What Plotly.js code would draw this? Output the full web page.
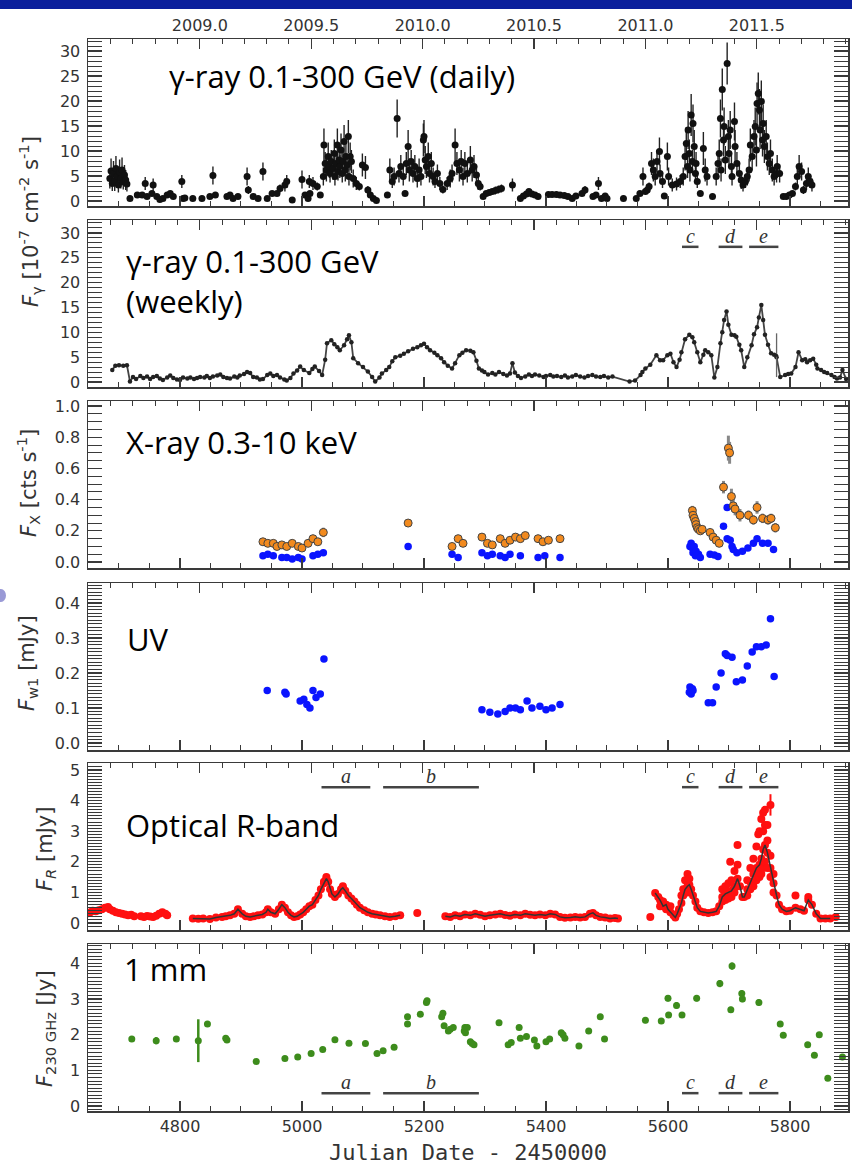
<!DOCTYPE html>
<html><head><meta charset="utf-8">
<script src="https://cdn.plot.ly/plotly-3.0.1.min.js"></script>
<style>html,body{margin:0;padding:0;background:#fff}#chart{width:852px;height:1168px}</style>
</head><body><div id="chart"></div>
<script>
// ---------------- DATA (JD - 2450000) ----------------
// gamma-ray daily [JD, flux (1e-7), error]
const gammaDaily = [
[4685,4.5,2],[4687,6.0,2.5],[4689,3.5,1.5],[4691,5.5,2.5],[4693,4.0,2],[4695,6.5,2.5],[4697,5.0,2],[4699,3.2,1.5],[4701,5.8,2.5],[4703,4.5,2],[4705,6.2,2.5],[4707,3.8,1.5],[4709,5.2,2],[4711,4.2,2],[4713,3.4,1.5],
[4718,0.5,0.4],[4730,1.2,0.5],[4738,1.2,0.5],[4743,3.5,1.3],[4746,0.9,0.4],[4754,1.5,0.5],[4756,3.2,1.3],[4762,0.9,0.4],[4767,0.3,0.4],[4772,0.5,0.4],[4779,1.2,0.5],[4784,1.5,0.5],[4789,0.9,0.4],[4803,3.9,1.3],[4805,0.5,0.4],[4808,0.6,0.4],[4821,0.5,0.4],[4836,0.5,0.4],[4849,0.9,0.4],[4854,5.1,1.8],[4858,1.2,0.5],[4877,0.9,0.4],[4882,1.2,0.5],[4887,0.5,0.4],[4895,0.9,0.4],[4910,4.9,1.8],[4912,2.2,0.8],[4920,0.9,0.4],[4928,0.5,0.4],[4936,5.9,1.8],[4943,0.5,0.4],[4951,1.5,0.5],[4959,1.5,0.5],[4964,2.5,0.8],[4972,3.2,1.3],[4975,3.9,1.3],[4984,0.2,0.4],
[5000,4.3,1.8],[5005,1.2,0.5],[5010,0.5,0.4],[5012,3.9,1.3],[5013,1.5,0.5],[5018,3.5,1.3],[5025,2.9,0.8],[5030,1.2,0.5],
[5035,4.9,1.8],[5036,11.2,3.3],[5038,7.5,2.3],[5040,6.2,2.3],[5043,8.9,2.8],[5045,6.9,2.3],[5046,5.5,1.8],[5048,7.9,2.3],[5051,6.5,2.3],[5053,9.5,2.8],[5054,4.9,1.8],[5056,7.5,2.3],[5058,11.2,3.3],[5059,5.9,1.8],[5061,8.2,2.8],[5062,6.9,2.3],[5064,10.2,3.3],[5066,5.5,1.8],[5067,7.9,2.3],[5069,11.9,3.3],[5071,6.2,2.3],[5072,8.9,2.8],[5074,7.2,2.3],[5076,12.9,3.3],[5077,4.9,1.8],[5079,8.9,2.8],[5081,7.9,2.3],
[5084,4.5,1.8],[5089,3.5,1.3],[5094,2.9,0.8],[5099,7.2,2.3],[5104,6.7,2.3],[5108,2.2,0.8],[5112,1.2,0.5],[5117,0.5,0.4],[5122,0.1,0.4],
[5140,1.2,0.5],[5144,6.2,2.3],[5148,3.9,1.3],[5151,4.9,1.8],[5156,16.5,3.8],[5159,5.5,1.8],[5162,6.9,2.3],[5166,4.9,1.8],[5169,1.5,0.5],[5171,7.5,2.3],
[5174,10.9,3.3],[5176,6.2,2.3],[5179,7.9,2.3],[5182,5.5,1.8],[5185,6.9,2.3],[5189,4.5,1.8],[5192,6.2,2.3],[5195,4.9,1.8],[5199,12.2,3.3],[5200,12.9,3.3],
[5202,8.2,2.8],[5204,6.9,2.3],[5207,8.9,2.8],[5209,5.5,1.8],[5212,7.5,2.3],[5215,4.9,1.8],[5218,3.9,1.3],[5222,5.5,1.8],[5226,3.5,1.3],[5231,2.3,0.8],
[5238,3.5,1.3],[5243,4.5,1.8],[5246,5.5,1.8],[5251,11.2,3.3],[5254,7.5,2.3],[5258,6.2,2.3],[5261,7.9,2.3],[5264,4.9,1.8],[5267,7.5,2.3],[5271,5.5,1.8],
[5276,8.2,2.8],[5279,6.2,2.3],[5282,6.9,2.3],[5286,5.2,1.8],[5289,3.5,1.3],[5292,2.9,0.8],[5297,0.9,0.4],[5302,1.5,0.5],[5307,1.7,0.5],[5312,1.9,0.5],
[5317,2.1,0.8],[5322,2.3,0.8],[5327,2.5,0.8],[5345,3.2,1.3],[5358,0.5,0.4],[5363,1.0,0.5],[5368,1.4,0.5],[5372,1.9,0.5],[5377,1.4,0.5],[5382,1.2,0.5],
[5387,0.9,0.4],[5404,1.3,0.5],[5410,1.3,0.5],[5417,1.3,0.5],[5423,1.2,0.5],[5430,1.1,0.5],[5436,0.9,0.4],[5443,0.5,0.4],[5449,1.0,0.5],
[5459,1.5,0.5],[5464,2.2,0.8],[5477,0.9,0.4],[5482,1.2,0.5],[5486,3.5,1.3],[5491,0.5,0.4],[5497,1.0,0.5],[5500,0.5,0.4],[5527,0.5,0.4],[5548,0.5,0.4],
[5554,1.5,0.5],[5559,4.9,1.8],[5563,1.9,0.5],[5566,2.2,0.8],[5569,2.9,0.8],[5573,7.5,2.3],[5576,6.2,2.3],[5579,4.9,1.8],[5582,7.9,2.3],[5586,9.9,2.8],
[5587,5.5,1.8],[5591,3.9,1.3],[5594,1.0,0.5],[5599,8.9,2.8],[5601,4.9,1.8],[5607,3.2,1.3],[5614,3.4,1.3],[5620,3.9,1.3],[5625,4.9,1.8],[5628,8.9,2.8],
[5630,11.5,3.3],[5632,6.9,2.3],[5633,14.2,3.8],[5635,9.5,2.8],[5636,6.2,2.3],[5638,17.2,4.2],[5640,7.9,2.3],[5641,15.5,3.8],[5643,10.9,3.3],[5645,5.5,1.8],
[5646,7.5,2.3],[5648,3.9,1.3],[5653,1.5,0.5],[5658,10.5,3.3],[5661,6.2,2.3],[5664,4.9,1.8],[5673,0.9,0.4],[5679,4.9,1.8],[5682,7.5,2.3],[5684,9.5,2.8],
[5686,16.5,3.8],[5687,6.2,2.3],[5689,22.3,4.2],[5691,12.2,3.3],[5692,14.9,3.8],[5694,8.2,2.8],[5697,27.5,4.2],[5699,12.9,3.3],[5700,9.5,2.8],[5702,14.2,3.8],
[5704,6.9,2.3],[5705,4.9,1.8],[5709,15.9,3.8],[5710,10.9,3.3],[5713,7.5,2.3],[5717,5.5,1.8],[5720,4.2,1.8],[5723,3.2,1.3],[5727,3.9,1.3],[5730,4.9,1.8],
[5733,6.2,2.3],[5735,11.2,3.3],[5738,8.9,2.8],[5741,12.9,3.3],[5743,14.9,3.8],[5745,10.2,3.3],[5746,19.5,4.2],[5748,21.5,4.2],[5750,18.2,4.2],[5751,14.2,3.8],
[5753,19.9,4.2],[5755,12.2,3.3],[5756,15.5,3.8],[5758,10.9,3.3],[5761,12.9,3.3],[5763,8.9,2.8],[5766,7.5,2.3],[5768,9.5,2.8],[5771,6.2,2.3],[5774,4.9,1.8],
[5778,5.5,1.8],[5779,6.9,2.3],[5783,5.5,1.8],[5789,0.9,0.4],[5794,0.9,0.4],[5799,1.2,0.5],[5804,1.5,0.5],[5809,2.9,0.8],[5812,4.9,1.8],[5815,6.9,2.3],
[5819,5.9,1.8],[5822,2.2,0.8],[5827,3.5,1.3],[5830,4.9,1.8],[5833,3.9,1.3],[5836,3.2,1.3]
];

// gamma-ray weekly [JD, flux]
const gammaWeekly = [
[4689,2.4],[4694,3.3],[4700,3.4],[4707,3.3],[4713,3.4],[4718,0.1],[4723,1.0],[4728,0.6],[4735,1.2],[4740,0.8],[4746,1.1],[4751,0.6],[4756,1.0],[4762,1.2],[4767,0.7],[4772,0.4],[4779,0.9],[4784,1.3],[4789,0.8],[4795,0.5],
[4800,0.4],[4805,0.9],[4812,0.7],[4817,0.9],[4823,0.6],[4828,0.8],[4833,1.0],[4840,0.9],[4844,1.2],[4849,0.8],[4854,1.1],[4861,1.3],[4866,1.5],[4871,1.0],[4877,0.8],[4882,0.7],[4889,1.1],[4894,0.9],[4898,1.3],[4905,1.6],
[4910,2.0],[4915,1.8],[4920,1.0],[4926,0.9],[4931,0.5],[4936,0.6],[4943,1.4],[4948,1.7],[4953,1.2],[4959,1.4],[4964,0.9],[4971,0.5],[4975,0.3],[4981,0.8],[4986,1.7],[4992,2.3],[4997,3.1],[5003,2.4],[5012,1.8],[5017,2.6],
[5021,3.1],[5028,2.2],[5033,1.4],[5038,4.5],[5041,7.8],[5048,8.4],[5053,7.6],[5058,7.0],[5062,6.4],[5069,7.4],[5074,8.6],[5077,9.4],[5081,8.0],[5084,4.8],[5092,3.8],[5100,3.0],[5108,2.1],[5115,1.0],[5120,0.1],[5127,0.9],
[5131,1.7],[5138,2.4],[5143,3.0],[5148,4.2],[5153,5.0],[5161,5.3],[5167,5.7],[5174,6.2],[5182,6.7],[5189,7.0],[5195,7.4],[5200,7.7],[5205,7.0],[5210,6.4],[5217,5.9],[5222,5.4],[5228,4.8],[5233,4.0],[5239,3.3],[5246,2.7],
[5251,3.8],[5258,5.4],[5263,5.9],[5269,6.4],[5276,6.3],[5281,6.0],[5286,4.3],[5290,2.7],[5295,2.3],[5299,2.0],[5305,1.5],[5312,1.8],[5317,1.5],[5323,2.0],[5330,1.6],[5336,1.3],[5341,1.7],[5345,3.8],[5349,1.9],[5354,1.2],
[5359,0.8],[5366,1.1],[5372,1.5],[5377,1.2],[5382,1.5],[5389,1.3],[5396,1.0],[5400,1.2],[5407,1.4],[5412,1.1],[5418,1.2],[5425,1.0],[5431,1.3],[5436,0.9],[5443,1.1],[5449,1.4],[5456,1.1],[5463,0.9],[5469,1.2],[5476,1.4],
[5482,1.1],[5489,1.0],[5495,1.2],[5502,0.9],[5509,1.1],[5537,0.1],[5546,0.3],[5555,1.4],[5558,2.0],[5563,2.7],[5571,3.5],[5581,5.4],[5587,4.4],[5592,4.4],[5599,5.4],[5604,5.7],[5609,4.0],[5614,3.0],[5619,4.5],[5622,6.0],
[5628,8.6],[5635,9.5],[5640,9.0],[5643,8.0],[5648,6.0],[5653,4.0],[5658,5.5],[5661,6.4],[5666,6.0],[5671,5.4],[5676,0.9],[5681,3.0],[5686,7.8],[5689,10.0],[5692,12.5],[5696,14.2],[5699,11.5],[5704,9.5],[5709,9.4],[5712,9.1],
[5717,7.5],[5720,6.4],[5725,3.0],[5730,5.0],[5737,7.4],[5741,9.6],[5746,11.0],[5749,13.0],[5753,15.5],[5756,12.5],[5759,9.5],[5764,7.5],[5769,5.8],[5774,5.5],[5778,5.0],[5784,1.0],[5792,1.4],[5797,1.6],[5802,1.7],[5809,3.0],
[5814,6.0],[5820,4.4],[5825,4.6],[5828,4.0],[5833,4.4],[5838,4.7],[5843,3.5],[5845,2.7],[5851,2.4],[5856,2.0],[5861,1.8],[5868,1.4],[5873,1.0],[5877,0.7],[5882,0.9],[5886,2.4],[5892,0.6]
];
// weekly point with large error [JD, flux, error]
const gammaWeeklyBigErr = [[5778,5.4,4.4]];

// X-ray 0.3-10 keV: orange series [JD, rate, error], blue series [JD, rate]
const xrayOrange = [
[4936,0.13,0.015],[4944,0.12,0.015],[4953,0.12,0.015],[4959,0.10,0.015],[4967,0.11,0.015],[4975,0.10,0.015],[4984,0.12,0.015],[4994,0.10,0.015],[5000,0.09,0.015],[5010,0.12,0.015],
[5018,0.15,0.02],[5026,0.13,0.02],[5035,0.19,0.03],[5174,0.25,0.02],[5246,0.10,0.015],[5256,0.15,0.02],[5264,0.12,0.02],[5295,0.16,0.02],[5304,0.12,0.015],[5312,0.11,0.015],
[5325,0.15,0.02],[5333,0.12,0.015],[5341,0.14,0.02],[5350,0.16,0.02],[5358,0.15,0.02],[5366,0.17,0.02],[5387,0.15,0.02],[5395,0.13,0.015],[5404,0.14,0.02],[5423,0.15,0.02],
[5640,0.33,0.03],[5641,0.30,0.03],[5643,0.28,0.02],[5645,0.26,0.02],[5646,0.24,0.02],[5648,0.22,0.02],[5650,0.21,0.02],[5653,0.20,0.02],[5656,0.21,0.02],[5669,0.19,0.02],
[5674,0.16,0.02],[5679,0.14,0.02],[5684,0.12,0.02],[5691,0.48,0.04],[5699,0.73,0.08],[5701,0.70,0.07],[5704,0.42,0.05],[5707,0.36,0.04],[5710,0.34,0.04],[5718,0.30,0.04],
[5732,0.30,0.03],[5740,0.27,0.03],[5746,0.35,0.04],[5755,0.28,0.03],[5764,0.27,0.03],[5769,0.28,0.03],[5776,0.22,0.03]
];
const xrayBlue = [
[4936,0.04],[4944,0.05],[4953,0.04],[4967,0.03],[4975,0.03],[4984,0.02],[4994,0.03],[5000,0.02],[5018,0.04],[5026,0.05],[5035,0.06],[5174,0.10],
[5246,0.05],[5256,0.03],[5295,0.06],[5304,0.04],[5312,0.05],[5325,0.04],[5333,0.03],[5341,0.05],[5358,0.04],[5387,0.03],[5398,0.04],[5423,0.03],
[5636,0.10],[5638,0.12],[5640,0.09],[5641,0.06],[5643,0.10],[5645,0.04],[5646,0.07],[5650,0.05],[5653,0.03],[5669,0.05],[5676,0.045],[5682,0.035],
[5691,0.23],[5697,0.35],[5697,0.15],[5702,0.14],[5705,0.10],[5707,0.08],[5713,0.06],[5722,0.07],[5731,0.09],[5740,0.12],[5746,0.15],[5755,0.12],[5764,0.12],[5773,0.08]
];

// UV w1 [JD, mJy]
const uvW1 = [
[4943,0.15],[4972,0.145],[4974,0.14],[4997,0.12],[5003,0.125],[5008,0.11],[5013,0.10],[5018,0.15],[5023,0.13],[5030,0.14],[5036,0.24],
[5295,0.095],[5308,0.088],[5321,0.083],[5333,0.09],[5341,0.10],[5350,0.10],[5358,0.095],[5369,0.12],[5377,0.10],[5390,0.105],[5400,0.095],[5410,0.10],[5423,0.11],
[5635,0.145],[5636,0.16],[5638,0.14],[5640,0.155],[5641,0.15],[5666,0.115],[5673,0.115],[5679,0.16],[5687,0.20],[5694,0.255],[5697,0.25],[5705,0.245],
[5712,0.175],[5722,0.18],[5730,0.22],[5738,0.26],[5745,0.275],[5753,0.275],[5761,0.28],[5768,0.355],[5774,0.19]
];

// Optical R band [JD, mJy]: points without smoothed curve, smoothed curve (null = gap), extra scattered points
const opticalEarly = [
[4649,0.32],[4653,0.35],[4657,0.4],[4662,0.38],[4667,0.42],[4672,0.45],[4677,0.5],[4682,0.52],[4685,0.45],[4690,0.4],[4695,0.35],[4700,0.33],[4705,0.3],[4710,0.28],
[4715,0.25],[4720,0.27],[4725,0.22],[4736,0.22],[4741,0.2],[4746,0.23],[4751,0.21],[4756,0.2],[4761,0.24],[4766,0.3],[4771,0.35],[4776,0.3],[4779,0.25]
];
const opticalLine = [
[4821,0.15],[4830,0.14],[4838,0.15],[4849,0.13],[4859,0.18],[4869,0.2],[4875,0.22],[4882,0.25],[4889,0.3],[4895,0.45],[4902,0.3],[4908,0.22],[4915,0.2],[4921,0.22],[4928,0.25],
[4935,0.28],[4941,0.35],[4944,0.45],[4949,0.35],[4956,0.3],[4962,0.45],[4967,0.6],[4972,0.5],[4977,0.35],[4982,0.25],[4987,0.2],[4992,0.22],[4997,0.28],
[5002,0.35],[5007,0.45],[5012,0.55],[5017,0.6],[5022,0.75],[5027,0.9],[5031,1.1],[5036,1.3],[5040,1.45],[5043,1.35],[5046,1.1],[5049,0.95],[5054,0.85],[5059,0.95],[5064,1.1],
[5067,1.15],[5071,1.05],[5076,0.9],[5081,0.8],[5086,0.7],[5090,0.6],[5095,0.5],[5102,0.42],[5108,0.35],[5115,0.3],[5121,0.28],[5128,0.25],[5136,0.22],[5144,0.2],[5153,0.22],[5161,0.25],
[5200,null],
[5235,0.22],[5243,0.2],[5251,0.25],[5259,0.22],[5267,0.28],[5276,0.25],[5284,0.3],[5292,0.27],[5300,0.22],[5308,0.25],[5317,0.28],[5325,0.3],[5333,0.26],[5341,0.24],[5349,0.28],
[5358,0.25],[5366,0.3],[5374,0.27],[5382,0.25],[5390,0.28],[5399,0.25],[5407,0.3],[5415,0.28],[5423,0.2],[5431,0.17],[5440,0.18],[5448,0.2],[5456,0.18],[5464,0.2],[5472,0.3],
[5477,0.33],[5482,0.25],[5489,0.2],[5497,0.18],[5505,0.15],[5513,0.16],[5518,0.15],
[5550,null],
[5579,0.98],[5584,0.85],[5587,0.75],[5592,0.55],[5597,0.6],[5600,0.45],[5604,0.35],[5609,0.25],[5612,0.18],[5615,0.3],[5618,0.45],[5622,0.65],[5625,0.9],[5628,1.1],[5632,1.2],
[5635,1.25],[5638,1.1],[5641,0.9],[5645,0.7],[5648,0.5],[5653,0.38],[5659,0.35],[5666,0.33],[5673,0.35],[5679,0.38],[5684,0.55],[5689,0.85],[5694,0.95],[5699,1.0],[5704,1.05],
[5709,1.2],[5714,1.45],[5718,1.2],[5722,0.85],[5725,0.85],[5730,1.1],[5735,1.35],[5740,1.6],[5745,1.8],[5750,1.9],[5753,2.1],[5756,2.4],[5759,2.55],[5763,2.3],[5768,1.8],
[5773,1.3],[5778,0.9],[5782,0.6],[5787,0.45],[5794,0.38],[5800,0.4],[5809,0.5],[5817,0.45],[5823,0.4],[5830,0.75],[5836,0.6],[5843,0.3],[5850,0.15],[5858,0.15],[5866,0.15]
];
const opticalExtra = [
[5189,0.33],[5036,1.35],[5040,1.5],[5067,1.2],[5571,0.2],[5587,0.55],[5592,0.7],[5597,0.45],[5604,0.55],[5622,0.9],[5625,1.1],[5628,1.4],[5632,1.6],[5632,1.0],[5635,1.45],
[5689,0.7],[5689,1.1],[5694,0.75],[5694,1.2],[5699,0.8],[5699,1.3],[5702,2.0],[5704,0.85],[5704,1.4],[5709,1.0],[5709,1.7],[5714,2.55],[5714,1.2],[5714,1.9],
[5730,0.9],[5730,1.4],[5735,1.1],[5735,1.8],[5740,1.2],[5740,2.1],[5745,1.4],[5745,2.5],[5748,1.6],[5748,2.9],[5750,1.5],[5750,3.0],[5753,1.6],[5753,3.4],
[5756,1.8],[5756,3.6],[5756,3.0],[5759,2.0],[5759,3.7],[5759,3.2],[5763,1.8],[5763,3.2],[5763,2.7],[5768,1.5],[5768,2.2],[5773,1.0],[5773,1.6],
[5809,0.9],[5830,0.85],[5875,0.2]
];
const opticalBigErr = [[5768,3.86,0.35]];

// 1 mm (230 GHz) [JD, Jy, error]
const mm1 = [
[4721,1.88,0.07],[4761,1.83,0.1],[4794,1.88,0.07],[4830,1.83,0.6],[4845,2.3,0.08],[4875,1.9,0.08],[4877,1.85,0.07],[4925,1.25,0.05],[4972,1.33,0.05],[4993,1.37,0.05],
[5015,1.47,0.05],[5034,1.58,0.05],[5054,1.86,0.06],[5077,1.76,0.06],[5104,1.75,0.06],[5123,1.47,0.05],[5133,1.55,0.05],[5151,1.65,0.05],[5173,2.5,0.08],[5173,2.3,0.07],
[5194,2.57,0.08],[5204,2.9,0.08],[5205,2.95,0.08],[5229,2.5,0.08],[5231,2.6,0.08],[5233,2.25,0.07],[5240,2.1,0.07],[5243,2.15,0.07],[5248,2.2,0.07],[5266,2.1,0.07],
[5267,2.2,0.08],[5268,2.05,0.07],[5271,2.2,0.07],[5276,1.8,0.06],[5279,1.75,0.06],[5282,1.72,0.06],[5323,2.33,0.07],[5338,1.72,0.06],[5343,1.78,0.06],[5356,2.2,0.07],
[5358,1.9,0.06],[5368,1.95,0.06],[5381,1.85,0.06],[5385,1.68,0.06],[5400,1.8,0.06],[5406,1.88,0.06],[5425,2.05,0.07],[5428,2.0,0.07],[5431,1.9,0.06],[5454,1.68,0.06],
[5470,2.1,0.07],[5489,2.5,0.08],[5496,1.88,0.06],[5563,2.4,0.08],[5589,2.38,0.08],[5600,3.02,0.09],[5601,2.55,0.08],[5614,2.82,0.09],[5623,2.55,0.08],[5647,3.02,0.09],
[5685,3.43,0.1],[5703,2.7,0.08],[5705,3.92,0.1],[5721,3.15,0.09],[5722,3.0,0.09],[5749,2.9,0.09],[5784,2.3,0.08],[5789,1.98,0.07],[5829,1.72,0.06],[5840,1.42,0.05],
[5848,2.0,0.07],[5862,0.78,0.04],[5886,1.37,0.05]
];

// activity periods
const periodLabels = ['a','b','c','d','e'];
const periodStart = [5032,5133,5623,5683,5733];
const periodEnd   = [5112,5290,5650,5722,5781];

// top axis (calendar year) tick labels
const yearTickVals = [2008.5,2009.0,2009.5,2010.0,2010.5,2011.0,2011.5];
const yearTickText = ['','2009.0','2009.5','2010.0','2010.5','2011.0','2011.5'];

// panel texts
const panelLabels = ['γ-ray 0.1-300 GeV (daily)','γ-ray 0.1-300 GeV<br>(weekly)','X-ray 0.3-10 keV','UV','Optical R-band','1 mm'];
const xTitle = 'Julian Date - 2450000';

// ---------------- LAYOUT HELPERS ----------------
const L=88, R=848, T=39, B=1111;
const ax = px => (px-L)/(R-L);
const ay = py => (B-py)/(B-T);
const jdRange = [4649.2, 5895.1];
const yrRange = [2009 + (jdRange[0]-4832.5)/365.25, 2009 + (jdRange[1]-4832.5)/365.25];

const col = (a,i)=>a.map(r=>r[i]);
const tickFont = {family:'DejaVu Sans, sans-serif', size:16, color:'#333'};
const lineC = '#3a3a3a';

const traces = [];
// panel 1 daily
traces.push({x:col(gammaDaily,0), y:col(gammaDaily,1), type:'scatter', mode:'markers', xaxis:'x', yaxis:'y',
  marker:{color:'#111', size:7}, error_y:{type:'data', array:col(gammaDaily,2), color:'#222', thickness:1.4, width:0}});
// panel 2 weekly
traces.push({x:col(gammaWeekly,0), y:col(gammaWeekly,1), type:'scatter', mode:'lines+markers', xaxis:'x2', yaxis:'y2',
  line:{color:'#444', width:1.8}, marker:{color:'#222', size:4.5}});
traces.push({x:col(gammaWeeklyBigErr,0), y:col(gammaWeeklyBigErr,1), type:'scatter', mode:'markers', xaxis:'x2', yaxis:'y2',
  marker:{color:'#222', size:3}, error_y:{type:'data', array:col(gammaWeeklyBigErr,2), color:'#666', thickness:1.3, width:0}});
// panel 3 X-ray
traces.push({x:col(xrayBlue,0), y:col(xrayBlue,1), type:'scatter', mode:'markers', xaxis:'x3', yaxis:'y3',
  marker:{color:'#0a14ff', size:7.5}});
traces.push({x:col(xrayOrange,0), y:col(xrayOrange,1), type:'scatter', mode:'markers', xaxis:'x3', yaxis:'y3',
  marker:{color:'#f28a1e', size:8, line:{color:'#444', width:1}}, error_y:{type:'data', array:col(xrayOrange,2), color:'#888', thickness:3, width:0}});
// panel 4 UV
traces.push({x:col(uvW1,0), y:col(uvW1,1), type:'scatter', mode:'markers', xaxis:'x4', yaxis:'y4',
  marker:{color:'#0a14ff', size:7.5}});
// panel 5 optical
const optLinePts = opticalLine.filter(r=>r[1]!==null);
const optAll = opticalEarly.concat(optLinePts, opticalExtra);
traces.push({x:col(optAll,0), y:col(optAll,1), type:'scatter', mode:'markers', xaxis:'x5', yaxis:'y5',
  marker:{color:'#ff1010', size:8}});
traces.push({x:col(opticalBigErr,0), y:col(opticalBigErr,1), type:'scatter', mode:'markers', xaxis:'x5', yaxis:'y5',
  marker:{color:'#ff1010', size:8}, error_y:{type:'data', array:col(opticalBigErr,2), color:'#ff1010', thickness:2, width:0}});
traces.push({x:col(opticalLine,0), y:col(opticalLine,1), type:'scatter', mode:'lines', xaxis:'x5', yaxis:'y5',
  connectgaps:false, line:{color:'#333', width:1.5}});
// panel 6 1mm
traces.push({x:col(mm1,0), y:col(mm1,1), type:'scatter', mode:'markers', xaxis:'x6', yaxis:'y6',
  marker:{color:'#3d8c1c', size:7}, error_y:{type:'data', array:col(mm1,2), color:'#3d8c1c', thickness:2.5, width:0}});
// dummy traces for top (year) axes
for (let i=7;i<=12;i++) traces.push({x:[2010], y:[null], type:'scatter', mode:'markers', xaxis:'x'+i, yaxis:(i===7?'y':'y'+(i-6)), showlegend:false, hoverinfo:'skip'});

// panel geometry (pixel top/bottom) and y settings
const panels = [
  {top:39,  bot:206,  range:[-1.0,32.4],  dtick:5,   minor:1,    fmt:'d'},
  {top:220, bot:387,  range:[-1.0,32.6],  dtick:5,   minor:1,    fmt:'d'},
  {top:401, bot:568,  range:[-0.038,1.032], dtick:0.2, minor:0.05, fmt:'.1f'},
  {top:583, bot:750,  range:[-0.02,0.457], dtick:0.1, minor:0.01, fmt:'.1f'},
  {top:763, bot:930,  range:[-0.229,5.23], dtick:1,   minor:0.1,  fmt:'d'},
  {top:944, bot:1111, range:[-0.14,4.54],  dtick:1,   minor:0.1,  fmt:'d'}
];

const layout = {
  width:852, height:1168, margin:{l:L, r:852-R, t:T, b:1168-B},
  paper_bgcolor:'#fff', plot_bgcolor:'#fff', showlegend:false,
  font:{family:'DejaVu Sans, sans-serif', color:'#333'},
  shapes:[], annotations:[]
};

panels.forEach((p,i)=>{
  const n = i+1, s = (n===1?'':String(n));
  layout['yaxis'+s] = {domain:[ay(p.bot), ay(p.top)], anchor:'x'+s, range:p.range, dtick:p.dtick, tick0:0,
    tickformat:p.fmt, ticks:'inside', ticklen:14, tickwidth:1.2, tickcolor:lineC, mirror:'allticks',
    minor:{dtick:p.minor, ticks:'inside', ticklen:7, tickcolor:lineC, tickwidth:1},
    showline:true, linecolor:lineC, linewidth:1.5, zeroline:false, showgrid:false, tickfont:tickFont, ticklabelstandoff:3};
  layout['xaxis'+s] = {domain:[0,1], anchor:'y'+s, range:jdRange, dtick:200, tick0:0,
    ticks:'inside', ticklen:10, tickwidth:1.2, tickcolor:lineC,
    minor:{dtick:50, ticks:'inside', ticklen:5, tickcolor:lineC, tickwidth:1},
    showline:true, linecolor:lineC, linewidth:1.5, mirror:false, zeroline:false, showgrid:false,
    showticklabels:(n===6), tickfont:tickFont, tickformat:'d'};
  layout['xaxis'+(n+6)] = {overlaying:'x'+s, anchor:'y'+s, side:'top', range:yrRange,
    tickmode:'array', tickvals:yearTickVals, ticktext:yearTickText,
    ticks:'inside', ticklen:10, tickwidth:1.2, tickcolor:lineC,
    minor:{tickmode:'linear', tick0:2009, dtick:0.1, ticks:'inside', ticklen:5, tickcolor:lineC, tickwidth:1},
    showline:true, linecolor:lineC, linewidth:1.5, zeroline:false, showgrid:false,
    showticklabels:(n===1), tickfont:tickFont};
});
layout.xaxis6.title = {text:xTitle, font:{family:'DejaVu Sans Mono, monospace', size:22, color:'#333'}, standoff:10};

// top blue band and small slide mark at left edge
layout.shapes.push({type:'rect', xref:'paper', yref:'paper', x0:ax(0), x1:ax(852), y0:ay(9), y1:ay(0),
  fillcolor:'#0b1f9c', line:{width:0}, layer:'above'});
layout.shapes.push({type:'circle', xref:'paper', yref:'paper', x0:ax(-4), x1:ax(6), y0:ay(602), y1:ay(589),
  fillcolor:'#9a9ad6', line:{width:0}, layer:'above'});

// period bars
const periodPanels = [
  {axis:'2', idx:[2,3,4], bar:27.2, lab:29.3},
  {axis:'5', idx:[0,1,2,3,4], bar:4.44, lab:4.8},
  {axis:'6', idx:[0,1,2,3,4], bar:0.36, lab:0.67}
];
periodPanels.forEach(pp=>{
  pp.idx.forEach(k=>{
    layout.shapes.push({type:'line', xref:'x'+pp.axis, yref:'y'+pp.axis, x0:periodStart[k], x1:periodEnd[k], y0:pp.bar, y1:pp.bar,
      line:{color:'#444', width:2.5}});
    layout.annotations.push({xref:'x'+pp.axis, yref:'y'+pp.axis, x:(periodStart[k]+periodEnd[k])/2, y:pp.lab,
      text:'<i>'+periodLabels[k]+'</i>', showarrow:false, xanchor:'center', yanchor:'middle',
      font:{family:'Liberation Serif, serif', size:20, color:'#333'}});
  });
});

// big panel labels
const bigFont = {family:'"Open Sans", Lato, sans-serif', size:31, color:'#000'};
const labelPos = [[167,76],[124,281],[124,442],[125,639],[124,825],[122,969]];
panelLabels.forEach((t,i)=>{
  layout.annotations.push({xref:'paper', yref:'paper', x:ax(labelPos[i][0]), y:ay(labelPos[i][1]), text:t,
    showarrow:false, xanchor:'left', yanchor:'middle', align:'left', font:bigFont});
});

// y-axis titles
const yTitleFont = {family:'DejaVu Sans, sans-serif', size:21, color:'#333'};
const yTitles = [
  ['<i>F</i><sub>γ</sub> [10<sup>-7</sup> cm<sup>-2</sup> s<sup>-1</sup>]', 30, 222],
  ['<i>F</i><sub>X</sub> [cts s<sup>-1</sup>]', 28, 483],
  ['<i>F</i><sub>w1</sub> [mJy]', 28, 663],
  ['<i>F</i><sub><i>R</i></sub> [mJy]', 46, 849],
  ['<i>F</i><sub>230 GHz</sub> [Jy]', 46, 1029]
];
yTitles.forEach(t=>{
  layout.annotations.push({xref:'paper', yref:'paper', x:ax(t[1]), y:ay(t[2]), text:t[0], textangle:-90,
    showarrow:false, xanchor:'center', yanchor:'middle', font:yTitleFont});
});

Plotly.newPlot('chart', traces, layout, {staticPlot:true, displayModeBar:false});
</script></body></html>
